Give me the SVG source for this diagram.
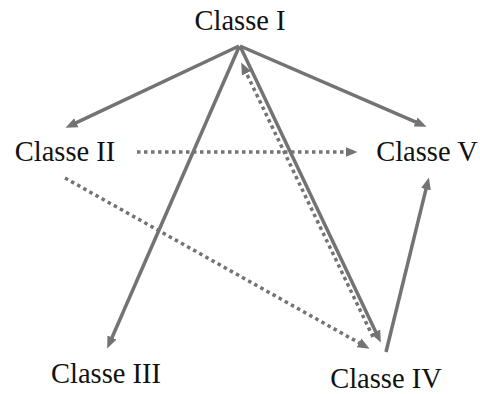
<svg xmlns="http://www.w3.org/2000/svg" width="480" height="394" viewBox="0 0 480 394">
<style>
.lbl{font-family:"Liberation Serif","DejaVu Serif",serif;font-size:28.5px;fill:#111;text-anchor:middle}
.e{stroke:#737373;stroke-width:3.5;fill:none;marker-end:url(#ah)}
.d{stroke-dasharray:3.5 3.5}
</style>
<defs>
<marker id="ah" markerUnits="userSpaceOnUse" markerWidth="13" markerHeight="11" viewBox="0 -5.5 13 11" refX="0.5" refY="0" orient="auto">
<path d="M0,-5 L12,0 L0,5 Z" fill="#737373"/>
</marker>
</defs>
<rect width="480" height="394" fill="#fff"/>
<g id="connectors">
<line class="e" x1="239" y1="46" x2="75.9" y2="122.9"/>
<line class="e" x1="240" y1="46" x2="416" y2="122.2"/>
<line class="e" x1="239" y1="47" x2="111.8" y2="338"/>
<line class="e" x1="240" y1="46" x2="375.9" y2="332.2"/>
<line class="e d" x1="373" y1="337" x2="246.2" y2="72.8"/>
<line class="e" x1="386" y1="352" x2="426.1" y2="188.7"/>
<line class="e d" x1="137" y1="152" x2="346" y2="152"/>
<line class="e d" x1="65" y1="178" x2="359.5" y2="343.1"/>
</g>
<g id="classe1"><text class="lbl" x="240" y="30">Classe I</text></g>
<g id="classe2"><text class="lbl" x="65" y="161">Classe II</text></g>
<g id="classe3"><text class="lbl" x="106" y="383">Classe III</text></g>
<g id="classe4"><text class="lbl" x="386" y="388">Classe IV</text></g>
<g id="classe5"><text class="lbl" x="427" y="161">Classe V</text></g>
</svg>
